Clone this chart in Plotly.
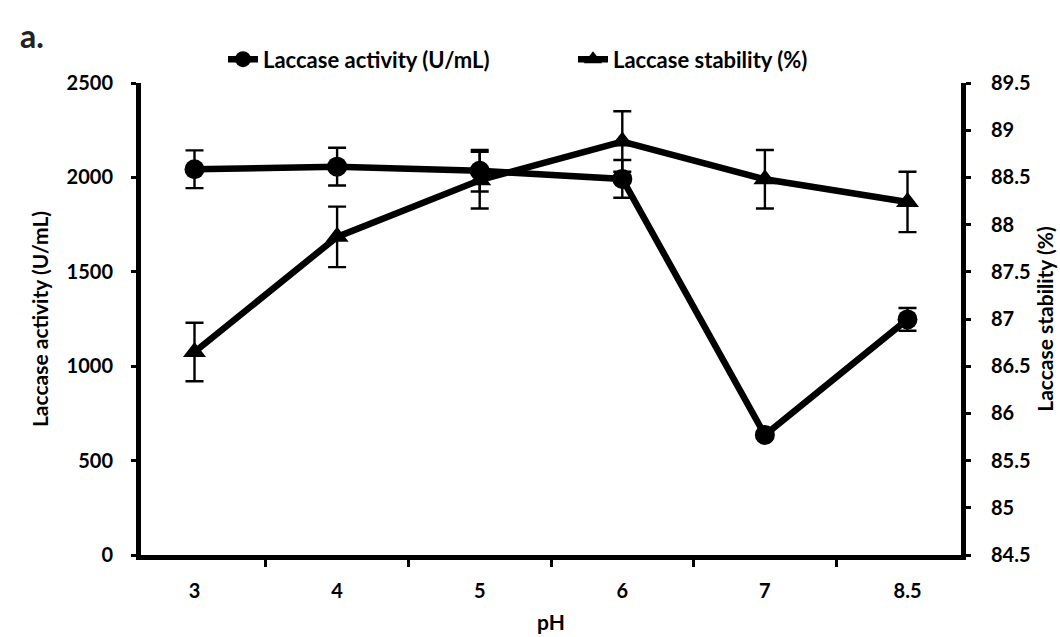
import plotly.graph_objects as go

ph = ["3", "4", "5", "6", "7", "8.5"]
activity = [2043, 2057, 2035, 1992, 636, 1248]
activity_err = [100, 100, 110, 100, 15, 60]
stability = [86.65, 87.87, 88.47, 88.88, 88.48, 88.24]
stability_err = [0.31, 0.32, 0.30, 0.32, 0.31, 0.32]

FONT = dict(family="Lato", size=20, color="black", weight="bold")
TITLE_FONT = dict(family="Lato", size=21, color="black", weight="bold")

fig = go.Figure()
fig.add_trace(go.Scatter(
    x=ph, y=activity, name="Laccase activity (U/mL)", mode="lines+markers",
    line=dict(color="black", width=6.5),
    marker=dict(symbol="circle", size=20, color="black"),
    error_y=dict(type="data", array=activity_err, color="black", thickness=2.4, width=9),
))
fig.add_trace(go.Scatter(
    x=ph, y=stability, name="Laccase stability (%)", mode="lines+markers", yaxis="y2",
    line=dict(color="black", width=6.5),
    marker=dict(symbol="triangle-up", size=20, color="black"),
    error_y=dict(type="data", array=stability_err, color="black", thickness=2.4, width=9),
))

fig.update_layout(
    width=1060, height=637,
    margin=dict(l=141, r=99, t=83, b=82),
    paper_bgcolor="white", plot_bgcolor="white",
    font=FONT,
    showlegend=True,
    legend=dict(orientation="h", x=0.1, xanchor="left", y=1.05, yanchor="middle",
                font=dict(family="Lato", size=22, color="black", weight="bold"),
                entrywidth=305, entrywidthmode="pixels",
                tracegroupgap=0, bgcolor="rgba(0,0,0,0)"),
    xaxis=dict(
        type="category", tickson="boundaries", ticks="outside", ticklen=7, tickwidth=3,
        tickcolor="black", showline=True, linewidth=5, linecolor="black",
        showgrid=False, zeroline=False, ticklabelstandoff=14, automargin=False,
        title=dict(text="pH", font=TITLE_FONT, standoff=16),
    ),
    yaxis=dict(
        range=[0, 2500], dtick=500, ticks="outside", ticklen=5, tickwidth=3,
        tickcolor="black", showline=True, linewidth=5, linecolor="black",
        showgrid=False, zeroline=False, ticklabelstandoff=14, automargin=False,
        title=dict(text="Laccase activity (U/mL)", font=TITLE_FONT, standoff=14),
    ),
    yaxis2=dict(
        range=[84.5, 89.5], dtick=0.5, overlaying="y", side="right",
        ticks="outside", ticklen=5, tickwidth=3, tickcolor="black",
        showline=True, linewidth=5, linecolor="black", automargin=False,
        showgrid=False, zeroline=False, ticklabelstandoff=16,
        title=dict(text="Laccase stability (%)", font=TITLE_FONT, standoff=10),
    ),
    annotations=[dict(text="a.", x=-0.15, y=1.10, xref="paper", yref="paper",
                      xanchor="left", yanchor="middle", showarrow=False,
                      font=dict(family="Lato", size=32, color="#222"))],
)

fig.write_html("out.html")
